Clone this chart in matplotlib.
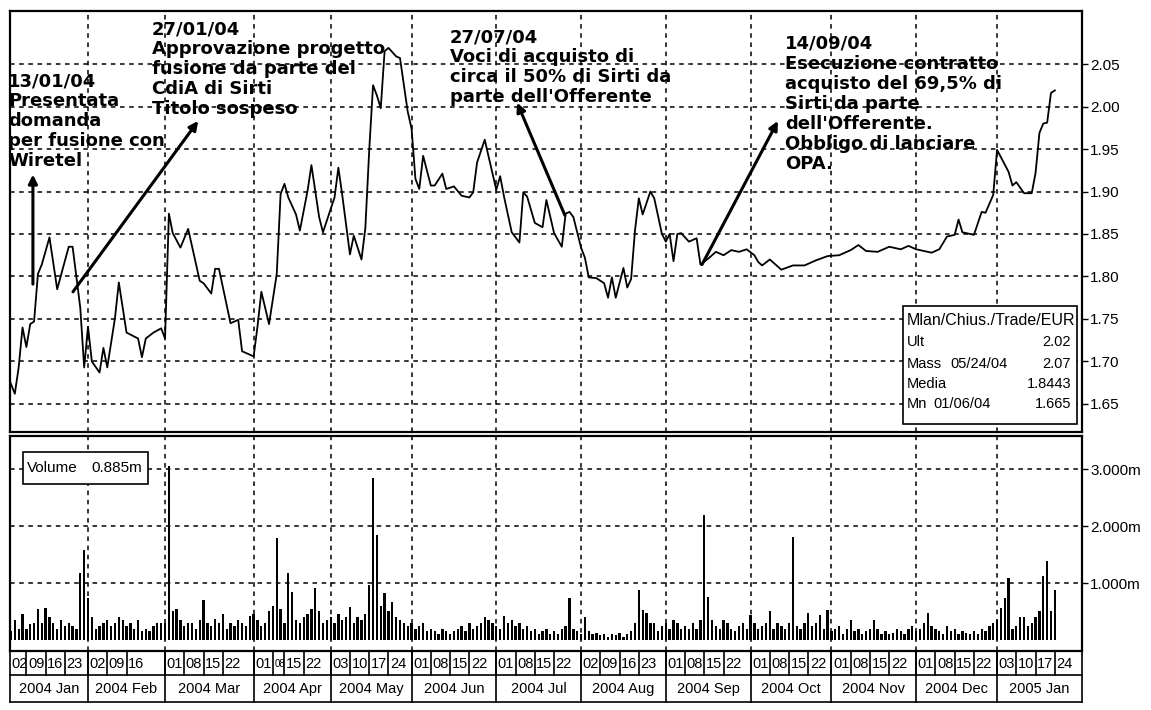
import matplotlib
matplotlib.use("Agg")
import matplotlib.pyplot as plt
import pandas as pd
from matplotlib.patches import Rectangle

# ---------------- data ----------------
holidays = ["2004-04-09", "2004-04-12", "2004-12-24", "2004-12-31"]
first_session, last_session = "2004-01-02", "2005-01-24"

# closing price (session index -> EUR)
price_day = [0, 2, 3, 4, 5, 6, 7, 8, 9, 11, 13, 16, 17, 19, 20, 21, 22, 24, 25, 26, 28, 29, 31, 34, 35, 36, 38,
             40, 41, 42, 43, 45, 47, 50, 51, 53, 54, 55, 58, 60, 61, 64, 65, 66, 68, 70, 71, 72, 73, 75, 76, 78,
             79, 81, 82, 85, 86, 87, 89, 90, 92, 93, 94, 95, 96, 97, 98, 99, 101, 102, 104, 105, 106, 107, 108,
             110, 111, 113, 114, 116, 118, 120, 121, 122, 124, 125, 127, 128, 129, 131, 133, 134, 135, 137, 139,
             140, 142, 144, 145, 146, 147, 149, 150, 151, 153, 155, 156, 157, 158, 160, 161, 162, 163, 164, 165,
             167, 168, 170, 171, 172, 173, 174, 175, 177, 179, 180, 182, 184, 186, 188, 190, 192, 194, 195, 196,
             198, 201, 204, 207, 210, 213, 216, 219, 221, 223, 226, 229, 232, 234, 236, 240, 242, 244, 246, 247,
             248, 251, 253, 254, 256, 257, 260, 261, 262, 264, 266, 267, 268, 269, 270, 271, 272]
price_close = [1.685, 1.662, 1.693, 1.740, 1.717, 1.744, 1.747, 1.803, 1.814, 1.846, 1.785, 1.835, 1.835, 1.763,
               1.693, 1.741, 1.700, 1.687, 1.716, 1.693, 1.751, 1.793, 1.734, 1.727, 1.705, 1.727, 1.734,
               1.739, 1.727, 1.874, 1.851, 1.834, 1.856, 1.795, 1.792, 1.780, 1.809, 1.809, 1.745, 1.749, 1.712,
               1.706, 1.741, 1.782, 1.744, 1.803, 1.897, 1.909, 1.893, 1.873, 1.854, 1.901,
               1.931, 1.870, 1.852, 1.893, 1.928, 1.896, 1.826, 1.848, 1.820, 1.857, 1.948, 2.025, 2.013, 1.998,
               2.065, 2.069, 2.059, 2.057, 1.994, 1.974, 1.915, 1.903, 1.942,
               1.907, 1.907, 1.921, 1.903, 1.906, 1.895, 1.893, 1.899, 1.934, 1.961, 1.941, 1.902, 1.918, 1.894,
               1.852, 1.840, 1.899, 1.894, 1.863, 1.858,
               1.890, 1.851, 1.835, 1.874, 1.876, 1.870, 1.834, 1.822, 1.799, 1.798, 1.792, 1.775, 1.799, 1.775,
               1.810, 1.787, 1.797, 1.854, 1.892, 1.873,
               1.900, 1.892, 1.850, 1.841, 1.850, 1.818, 1.850, 1.851, 1.841, 1.845, 1.814, 1.821, 1.829, 1.825,
               1.831, 1.829, 1.832, 1.825, 1.817, 1.813,
               1.820, 1.808, 1.813, 1.813, 1.819, 1.824, 1.825, 1.831, 1.837, 1.830, 1.829, 1.835, 1.832, 1.836,
               1.832, 1.828, 1.832, 1.847, 1.849, 1.867,
               1.852, 1.849, 1.876, 1.875, 1.896, 1.949, 1.923, 1.907, 1.911, 1.898, 1.898, 1.922, 1.969, 1.980,
               1.981, 2.016, 2.019]

# daily volume (millions of shares), one value per session, by month
vol_jan04 = [0.25, 0.15, 0.35, 0.20, 0.45, 0.20, 0.28, 0.30, 0.55, 0.30, 0.56, 0.40, 0.30, 0.20, 0.35, 0.25, 0.30,
             0.25, 0.20, 1.18, 1.58]
vol_feb04 = [0.73, 0.40, 0.20, 0.25, 0.30, 0.35, 0.25, 0.30, 0.40, 0.35, 0.25, 0.30, 0.20, 0.35, 0.15, 0.20, 0.15,
             0.25, 0.30, 0.30]
vol_mar04 = [0.30, 3.05, 0.50, 0.55, 0.35, 0.25, 0.30, 0.30, 0.20, 0.35, 0.70, 0.30, 0.25, 0.36, 0.30, 0.45, 0.20,
             0.30, 0.25, 0.35, 0.30, 0.25, 0.42]
vol_apr04 = [0.45, 0.35, 0.25, 0.30, 0.50, 0.60, 1.79, 0.55, 0.30, 1.18, 0.85, 0.35, 0.30, 0.40, 0.45, 0.55, 0.91,
             0.50, 0.30, 0.35]
vol_may04 = [0.40, 0.30, 0.45, 0.35, 0.40, 0.58, 0.30, 0.40, 0.35, 0.45, 0.97, 2.85, 1.85, 0.60, 0.82, 0.50, 0.67,
             0.40, 0.35, 0.30, 0.25]
vol_jun04 = [0.30, 0.20, 0.25, 0.30, 0.15, 0.20, 0.15, 0.10, 0.20, 0.15, 0.10, 0.15, 0.20, 0.25, 0.15, 0.30, 0.20,
             0.25, 0.30, 0.40, 0.35, 0.30]
vol_jul04 = [0.25, 0.20, 0.42, 0.30, 0.35, 0.25, 0.30, 0.20, 0.25, 0.15, 0.20, 0.10, 0.15, 0.20, 0.10, 0.15, 0.10,
             0.20, 0.25, 0.74, 0.20, 0.15]
vol_aug04 = [0.10, 0.41, 0.15, 0.10, 0.12, 0.08, 0.10, 0.05, 0.10, 0.08, 0.12, 0.05, 0.10, 0.15, 0.30, 0.88, 0.53,
             0.47, 0.30, 0.30, 0.15, 0.25]
vol_sep04 = [0.30, 0.20, 0.35, 0.30, 0.20, 0.25, 0.20, 0.30, 0.20, 0.35, 2.20, 0.75, 0.35, 0.25, 0.20, 0.35, 0.30,
             0.20, 0.15, 0.25, 0.30, 0.20]
vol_oct04 = [0.44, 0.30, 0.20, 0.25, 0.30, 0.50, 0.20, 0.30, 0.25, 0.20, 0.30, 1.80, 0.25, 0.20, 0.30, 0.47, 0.25,
             0.30, 0.44, 0.20, 0.53]
vol_nov04 = [0.15, 0.20, 0.25, 0.10, 0.20, 0.35, 0.15, 0.20, 0.10, 0.15, 0.20, 0.35, 0.20, 0.10, 0.15, 0.10, 0.12,
             0.20, 0.15, 0.10, 0.20, 0.25]
vol_dec04 = [0.15, 0.20, 0.30, 0.47, 0.25, 0.20, 0.15, 0.10, 0.25, 0.15, 0.20, 0.10, 0.15, 0.12, 0.10, 0.15, 0.10,
             0.20, 0.15, 0.25, 0.30]
vol_jan05 = [0.35, 0.56, 0.74, 1.09, 0.20, 0.25, 0.40, 0.40, 0.25, 0.30, 0.40, 0.50, 1.12, 1.38, 0.50, 0.885]

price_ticks = [1.65, 1.70, 1.75, 1.80, 1.85, 1.90, 1.95, 2.00, 2.05]
price_labels = ["1.65", "1.70", "1.75", "1.80", "1.85", "1.90", "1.95", "2.00", "2.05"]
vol_ticks = [1.0, 2.0, 3.0]
vol_labels = ["1.000m", "2.000m", "3.000m"]

day_tick_dates = ["2004-01-02", "2004-01-09", "2004-01-16", "2004-01-23",
                  "2004-02-02", "2004-02-09", "2004-02-16",
                  "2004-03-01", "2004-03-08", "2004-03-15", "2004-03-22",
                  "2004-04-01", "2004-04-08", "2004-04-15", "2004-04-22",
                  "2004-05-03", "2004-05-10", "2004-05-17", "2004-05-24",
                  "2004-06-01", "2004-06-08", "2004-06-15", "2004-06-22",
                  "2004-07-01", "2004-07-08", "2004-07-15", "2004-07-22",
                  "2004-08-02", "2004-08-09", "2004-08-16", "2004-08-23",
                  "2004-09-01", "2004-09-08", "2004-09-15", "2004-09-22",
                  "2004-10-01", "2004-10-08", "2004-10-15", "2004-10-22",
                  "2004-11-01", "2004-11-08", "2004-11-15", "2004-11-22",
                  "2004-12-01", "2004-12-08", "2004-12-15", "2004-12-22",
                  "2005-01-03", "2005-01-10", "2005-01-17", "2005-01-24"]
month_labels = ["2004 Jan", "2004 Feb", "2004 Mar", "2004 Apr", "2004 May", "2004 Jun", "2004 Jul",
                "2004 Aug", "2004 Sep", "2004 Oct", "2004 Nov", "2004 Dec", "2005 Jan"]

legend_title = "Mlan/Chius./Trade/EUR"
legend_rows = [("Ult", "", "2.02"), ("Mass", "05/24/04", "2.07"), ("Media", "", "1.8443"),
               ("Mn", "01/06/04", "1.665")]
volume_box = ("Volume", "0.885m")

notes = [
    ["13/01/04", "Presentata", "domanda", "per fusione con", "Wiretel"],
    ["27/01/04", "Approvazione progetto", "fusione da parte del", "CdiA di Sirti", "Titolo sospeso"],
    ["27/07/04", "Voci di acquisto di", "circa il 50% di Sirti da", "parte dell'Offerente"],
    ["14/09/04", "Esecuzione contratto", "acquisto del 69,5% di", "Sirti da parte", "dell'Offerente.",
     "Obbligo di lanciare", "OPA."],
]

# ---------------- derived ----------------
sessions = pd.bdate_range(first_session, last_session)
sessions = sessions[~sessions.isin(pd.to_datetime(holidays))]
sess_idx = {d: i for i, d in enumerate(sessions)}
volume = (vol_jan04 + vol_feb04 + vol_mar04 + vol_apr04 + vol_may04 + vol_jun04 + vol_jul04 + vol_aug04
          + vol_sep04 + vol_oct04 + vol_nov04 + vol_dec04 + vol_jan05)
vol_day = list(range(len(volume)))
day_ticks = [sess_idx[pd.Timestamp(d)] for d in day_tick_dates]
day_tick_labels = [d[-2:] for d in day_tick_dates]
per = pd.Series(range(len(sessions)), index=sessions)
month_start = per.groupby([sessions.year, sessions.month]).min().tolist()

# ---------------- figure ----------------
W, H = 1151, 710
fig = plt.figure(figsize=(W / 100, H / 100), dpi=100)
plt.rcParams["font.family"] = ["Liberation Sans", "DejaVu Sans"]


def rect(l, t, r, b):
    return [l / W, 1 - b / H, (r - l) / W, (b - t) / H]


def fx(x):
    return x / W


def fy(y):
    return 1 - y / H


XMIN, XMAX = 0.75, 279.05
grid_kw = dict(color="black", linestyle=(0, (3, 3)), linewidth=1.1)
narrow = ["Liberation Sans Narrow", "Liberation Sans", "DejaVu Sans"]

# price panel
ax = fig.add_axes(rect(10, 11, 1082, 432))
ax.plot(price_day, price_close, color="black", lw=1.3, zorder=3)
ax.set_xlim(XMIN, XMAX)
ax.set_ylim(1.617, 2.1124)
ax.set_yticks(price_ticks)
ax.set_yticklabels(price_labels)
ax.yaxis.tick_right()
ax.set_xticks(month_start[1:])
ax.tick_params(axis="x", length=0, labelbottom=False)
ax.tick_params(axis="y", direction="out", length=4, width=1, labelsize=11, pad=2)
ax.grid(True, **grid_kw)
for s in ax.spines.values():
    s.set_linewidth(1.6)

# volume panel
axv = fig.add_axes(rect(10, 436, 1082, 651))
axv.bar(vol_day, volume, width=0.6, color="black", zorder=3)
axv.set_xlim(XMIN, XMAX)
axv.set_ylim(-0.193, 3.579)
axv.set_yticks(vol_ticks)
axv.set_yticklabels(vol_labels)
axv.yaxis.tick_right()
axv.set_xticks(month_start[1:])
axv.tick_params(axis="x", length=0, labelbottom=False)
axv.tick_params(axis="y", direction="out", length=4, width=1, labelsize=11, pad=2)
axv.grid(True, **grid_kw)
for s in axv.spines.values():
    s.set_linewidth(1.6)

# date rows
axl = fig.add_axes(rect(10, 651, 1082, 702))
axl.set_xlim(XMIN, XMAX)
axl.set_ylim(702, 651)
axl.axis("off")
line_kw = dict(color="black", lw=1.2, clip_on=False)
axl.plot([XMIN, XMAX], [675, 675], **line_kw)
axl.plot([XMIN, XMAX], [702, 702], **line_kw)
axl.plot([XMIN, XMIN], [651, 702], **line_kw)
axl.plot([XMAX, XMAX], [651, 702], **line_kw)
for m in month_start[1:]:
    axl.plot([m, m], [651, 702], **line_kw)
next_ticks = day_ticks[1:] + [XMAX]
for d, nd, lab in zip(day_ticks, next_ticks, day_tick_labels):
    if d > XMIN:
        axl.plot([d, d], [651, 675], **line_kw)
    fs = 10.5 if nd - d >= 4 else 7.0
    axl.text(max(d, XMIN) + 0.4, 664, lab, ha="left", va="center", fontsize=fs)
m_edges = month_start + [XMAX]
for i, lab in enumerate(month_labels):
    a = max(m_edges[i], XMIN)
    b = m_edges[i + 1]
    axl.text((a + b) / 2, 689, lab, ha="center", va="center", fontsize=10.5)

# legend box (price)
fig.add_artist(Rectangle((fx(903), fy(424)), (1077 - 903) / W, (424 - 306) / H, transform=fig.transFigure,
                         facecolor="white", edgecolor="black", lw=1.2, zorder=5))
fig.text(fx(907), fy(320), legend_title, fontsize=11.5, family=narrow, va="center", ha="left", zorder=6)
row_y = [342, 364, 384, 404]
date_x = [950, 950, 950, 933]
for (lab, dt, val), y, dx in zip(legend_rows, row_y, date_x):
    fig.text(fx(907), fy(y), lab, fontsize=10.5, family=narrow, va="center", ha="left", zorder=6)
    if dt:
        fig.text(fx(dx), fy(y), dt, fontsize=10.5, family=narrow, va="center", ha="left", zorder=6)
    fig.text(fx(1071), fy(y), val, fontsize=10.5, family=narrow, va="center", ha="right", zorder=6)

# volume box
fig.add_artist(Rectangle((fx(23), fy(484)), (148 - 23) / W, (484 - 452) / H, transform=fig.transFigure,
                         facecolor="white", edgecolor="black", lw=1.2, zorder=5))
fig.text(fx(27), fy(468), volume_box[0], fontsize=11, family=narrow, va="center", ha="left", zorder=6)
fig.text(fx(142), fy(468), volume_box[1], fontsize=11, family=narrow, va="center", ha="right", zorder=6)

# annotation texts
note_pos = [(8, 86), (152, 34), (450, 42), (785, 49)]
for lines, (x0, y0) in zip(notes, note_pos):
    for k, t in enumerate(lines):
        fig.text(fx(x0), fy(y0 + 20 * k), t, fontsize=13, family="DejaVu Sans", weight="bold",
                 va="baseline", ha="left", zorder=6)

# arrows (session index, price)
arrows = [((6.7, 1.791), (6.7, 1.920)), ((17.1, 1.782), (49.6, 1.983)),
          ((144.8, 1.872), (132.4, 2.0045)), ((180.4, 1.814), (200.1, 1.983))]
for tail, tip in arrows:
    ax.annotate("", xy=tip, xytext=tail,
                arrowprops=dict(arrowstyle="-|>", lw=2.2, color="black", mutation_scale=13,
                                shrinkA=0, shrinkB=0), zorder=6)

fig.savefig("out.png", dpi=100)
